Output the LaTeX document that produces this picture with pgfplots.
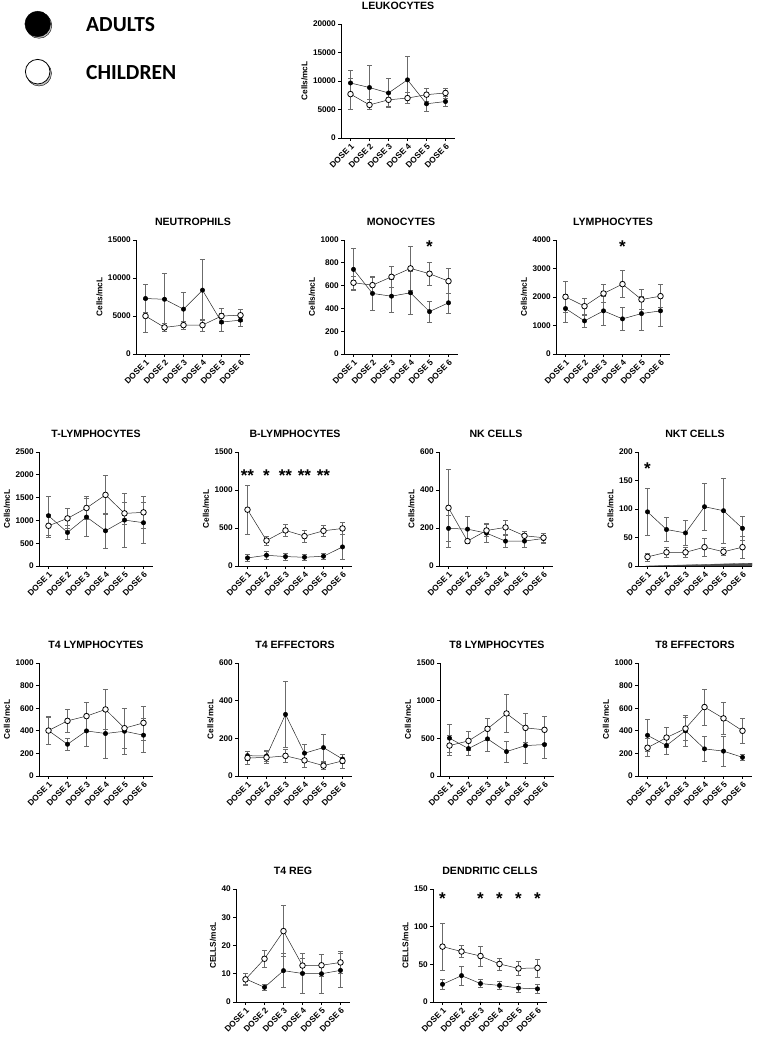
\documentclass[border=0pt]{standalone}
\usepackage{fontspec}
\setmainfont{Liberation Sans}
\newfontfamily\legfont{Carlito}
\usepackage{pgfplots}
\pgfplotsset{compat=1.18}
\definecolor{eb}{gray}{0.42}
\newcommand\fs[1]{\fontsize{#1}{#1}\selectfont}
\pgfplotsset{
  panel/.style={
    scale only axis, width=114pt, height=114pt,
    anchor=south west,
    xmin=0.5, xmax=6.5, ymin=0,
    axis x line*=bottom, axis y line*=left,
    axis line style={-, line width=0.9pt},
    tick align=outside, major tick length=3pt,
    tick style={line width=0.9pt, black},
    xtick={1,...,6},
    xticklabels={DOSE 1,DOSE 2,DOSE 3,DOSE 4,DOSE 5,DOSE 6},
    x tick label style={rotate=45, anchor=north east, font=\bfseries\fs{8.3}, inner sep=1pt},
    y tick label style={font=\bfseries\fs{8.2}, inner sep=2pt},
    scaled y ticks=false,
    /pgf/number format/assume math mode=true,
    /pgf/number format/1000 sep={},
    ylabel={Cells/mcL},
    ylabel style={font=\bfseries\fs{8.3}},
    title style={font=\bfseries\fs{10.6}, yshift=5pt},
    clip=false,
  },
  ad/.style={black!85, line width=0.5pt, mark=*, mark size=2.2pt, mark options={fill=black, draw=black, solid},
    error bars/.cd, y dir=both, y explicit, error bar style={eb, line width=0.6pt}, error mark options={eb, rotate=90, mark size=2.5pt, line width=0.6pt}},
  ch/.style={black!85, line width=0.5pt, mark=*, mark size=2.8pt, mark options={fill=white, draw=black, line width=0.8pt, solid},
    error bars/.cd, y dir=both, y explicit, error bar style={eb, line width=0.6pt}, error mark options={eb, rotate=90, mark size=2.5pt, line width=0.6pt}},
}
\newcommand\sig[2]{\node[font=\bfseries\fs{17}] at (axis cs:#1,#2) {*};}
\begin{document}
\begin{tikzpicture}
\useasboundingbox (0,0) rectangle (758pt,1038pt);

% legend
\begin{axis}[at={(0pt,938pt)}, anchor=south west, scale only axis, width=250pt, height=100pt,
  xmin=0, xmax=250, ymin=0, ymax=100, hide axis, clip=false]
\addplot[only marks, mark=*, mark size=12.8pt, draw=none, fill=black!25] coordinates {(39,74.5)};
\addplot[only marks, mark=*, mark size=12.8pt, draw=black, fill=black] coordinates {(37.7,76)};
\addplot[only marks, mark=*, mark size=12.5pt, draw=none, fill=black!25] coordinates {(39,26.5)};
\addplot[only marks, mark=*, mark size=12.3pt, draw=black, fill=white, line width=0.8pt] coordinates {(37.7,28.3)};
\node[anchor=base west, inner sep=0pt, font=\legfont\bfseries\fs{21.5}] at (axis cs:86,68) {ADULTS};
\node[anchor=base west, inner sep=0pt, font=\legfont\bfseries\fs{21.5}] at (axis cs:86,20) {CHILDREN};
\end{axis}

% LEUKOCYTES
\begin{axis}[panel, at={(341pt,900pt)}, ymax=20000, ytick={0,5000,10000,15000,20000}, title=LEUKOCYTES]
\addplot[ad] table[x=x,y=y,y error plus=ep,y error minus=em] {
x y ep em
1 9650 2150 2150
2 8850 3900 3900
3 7900 2500 2500
4 10200 4200 4200
5 6000 1300 1300
6 6400 1000 900
};
\addplot[ch] table[x=x,y=y,y error plus=ep,y error minus=em] {
x y ep em
1 7700 2700 2700
2 5800 900 800
3 6700 1100 1100
4 7000 1000 1000
5 7600 1200 1200
6 7900 900 900
};
\end{axis}

% NEUTROPHILS
\begin{axis}[panel, at={(136pt,684pt)}, ymax=15000, ytick={0,5000,10000,15000}, title=NEUTROPHILS]
\addplot[ad] table[x=x,y=y,y error plus=ep,y error minus=em] {
x y ep em
1 7300 1850 1850
2 7200 3400 3400
3 5900 2200 2200
4 8400 4000 4000
5 4200 1200 1200
6 4450 850 850
};
\addplot[ch] table[x=x,y=y,y error plus=ep,y error minus=em] {
x y ep em
1 5000 2200 2200
2 3500 600 550
3 3800 500 500
4 3800 750 800
5 5000 1000 1000
6 5100 800 800
};
\end{axis}

% MONOCYTES
\begin{axis}[panel, at={(344pt,684pt)}, ymax=1000, ytick={0,200,...,1000}, title=MONOCYTES]
\addplot[ad] table[x=x,y=y,y error plus=ep,y error minus=em] {
x y ep em
1 742 185 185
2 531 150 147
3 507 145 143
4 537 190 191
5 372 91 96
6 449 81 91
};
\addplot[ch] table[x=x,y=y,y error plus=ep,y error minus=em] {
x y ep em
1 625 60 60
2 604 73 73
3 677 88 88
4 751 190 190
5 704 99 99
6 639 109 109
};
\sig{5}{945}
\end{axis}

% LYMPHOCYTES
\begin{axis}[panel, at={(556pt,684pt)}, ymax=4000, ytick={0,1000,...,4000}, title=LYMPHOCYTES]
\addplot[ad] table[x=x,y=y,y error plus=ep,y error minus=em] {
x y ep em
1 1595 500 500
2 1161 210 210
3 1513 500 500
4 1232 400 400
5 1419 590 590
6 1513 540 540
};
\addplot[ch] table[x=x,y=y,y error plus=ep,y error minus=em] {
x y ep em
1 2006 540 540
2 1677 270 270
3 2123 320 320
4 2452 470 470
5 1912 360 360
6 2029 400 400
};
\sig{4}{3780}
\end{axis}

% T-LYMPHOCYTES
\begin{axis}[panel, at={(39pt,472pt)}, ymax=2500, ytick={0,500,...,2500}, title=T-LYMPHOCYTES]
\addplot[ad] table[x=x,y=y,y error plus=ep,y error minus=em] {
x y ep em
1 1103 420 420
2 735 147 147
3 1074 420 420
4 772 375 375
5 1007 595 595
6 949 442 442
};
\addplot[ch] table[x=x,y=y,y error plus=ep,y error minus=em] {
x y ep em
1 882 260 260
2 1044 221 221
3 1272 250 250
4 1559 434 434
5 1154 250 250
6 1176 346 346
};
\end{axis}

% B-LYMPHOCYTES
\begin{axis}[panel, at={(238pt,472pt)}, ymax=1500, ytick={0,500,...,1500}, title=B-LYMPHOCYTES]
\addplot[ad] table[x=x,y=y,y error plus=ep,y error minus=em] {
x y ep em
1 106 45 45
2 141 50 50
3 124 45 45
4 115 35 35
5 128 45 45
6 251 160 160
};
\addplot[ch] table[x=x,y=y,y error plus=ep,y error minus=em] {
x y ep em
1 741 325 325
2 335 60 60
3 468 80 80
4 393 75 75
5 463 70 70
6 494 75 75
};
\node[font=\bfseries\fs{17}] at (axis cs:1,1187) {**};
\node[font=\bfseries\fs{17}] at (axis cs:2,1187) {*};
\node[font=\bfseries\fs{17}] at (axis cs:3,1187) {**};
\node[font=\bfseries\fs{17}] at (axis cs:4,1187) {**};
\node[font=\bfseries\fs{17}] at (axis cs:5,1187) {**};
\end{axis}

% NK CELLS
\begin{axis}[panel, at={(439pt,472pt)}, ymax=600, ytick={0,200,...,600}, title=NK CELLS]
\addplot[ad] table[x=x,y=y,y error plus=ep,y error minus=em] {
x y ep em
1 198 67 67
2 194 68 68
3 173 50 50
4 131 30 30
5 131 30 30
6 145 25 25
};
\addplot[ch] table[x=x,y=y,y error plus=ep,y error minus=em] {
x y ep em
1 306 205 205
2 131 10 10
3 187 30 30
4 203 35 35
5 159 25 25
6 149 25 25
};
\end{axis}

% NKT CELLS
\begin{axis}[panel, at={(638pt,472pt)}, ymax=200, ytick={0,50,...,200}, title=NKT CELLS]
\addplot[draw=black!70, fill=black!70, line width=0.3pt] coordinates {(0.9,0) (6.5,5) (6.5,0)} -- cycle;
\addplot[ad] table[x=x,y=y,y error plus=ep,y error minus=em] {
x y ep em
1 95 41 41
2 64 21 21
3 58 22 22
4 104 41 41
5 97 57 57
6 66 21 21
};
\addplot[ch] table[x=x,y=y,y error plus=ep,y error minus=em] {
x y ep em
1 16 7 7
2 24 9 9
3 24 8 8
4 33 16 16
5 25 7 7
6 33 19 19
};
\sig{1}{170}
\end{axis}

% T4 LYMPHOCYTES
\begin{axis}[panel, height=113pt, at={(39pt,262pt)}, ymax=1000, ytick={0,200,...,1000}, title=T4 LYMPHOCYTES]
\addplot[ad] table[x=x,y=y,y error plus=ep,y error minus=em] {
x y ep em
1 402 125 125
2 281 50 50
3 399 140 140
4 376 220 220
5 396 200 200
6 361 150 150
};
\addplot[ch] table[x=x,y=y,y error plus=ep,y error minus=em] {
x y ep em
1 402 120 120
2 488 105 105
3 530 125 125
4 589 175 175
5 423 175 175
6 470 150 150
};
\end{axis}

% T4 EFFECTORS
\begin{axis}[panel, height=113pt, at={(238pt,262pt)}, ymax=600, ytick={0,200,...,600}, title=T4 EFFECTORS]
\addplot[ad] table[x=x,y=y,y error plus=ep,y error minus=em] {
x y ep em
1 108 25 25
2 106 30 30
3 327 175 175
4 121 45 45
5 151 72 72
6 90 25 25
};
\addplot[ch] table[x=x,y=y,y error plus=ep,y error minus=em] {
x y ep em
1 96 35 35
2 98 32 32
3 107 35 35
4 83 35 35
5 55 20 20
6 80 37 37
};
\end{axis}

% T8 LYMPHOCYTES
\begin{axis}[panel, height=113pt, at={(440pt,262pt)}, ymax=1500, ytick={0,500,...,1500}, title=T8 LYMPHOCYTES]
\addplot[ad] table[x=x,y=y,y error plus=ep,y error minus=em] {
x y ep em
1 502 190 190
2 364 85 85
3 493 169 169
4 324 138 138
5 404 235 235
6 417 177 177
};
\addplot[ch] table[x=x,y=y,y error plus=ep,y error minus=em] {
x y ep em
1 404 133 133
2 466 124 124
3 626 146 146
4 830 253 253
5 639 190 190
6 613 177 177
};
\end{axis}

% T8 EFFECTORS
\begin{axis}[panel, height=113pt, at={(638pt,262pt)}, ymax=1000, ytick={0,200,...,1000}, title=T8 EFFECTORS]
\addplot[ad] table[x=x,y=y,y error plus=ep,y error minus=em] {
x y ep em
1 360 140 140
2 270 80 80
3 400 140 140
4 240 110 110
5 220 130 130
6 165 25 25
};
\addplot[ch] table[x=x,y=y,y error plus=ep,y error minus=em] {
x y ep em
1 250 80 80
2 340 90 90
3 420 100 100
4 610 160 160
5 510 140 140
6 400 110 110
};
\end{axis}

% T4 REG
\begin{axis}[panel, height=113pt, at={(236pt,36pt)}, ymax=40, ytick={0,10,...,40}, title=T4 REG, ylabel={CELLS/mcL}]
\addplot[ad] table[x=x,y=y,y error plus=ep,y error minus=em] {
x y ep em
1 8.2 2 2
2 5.2 1 1
3 11.1 6 6
4 10.1 7 7
5 10 7 7
6 11.2 6 6
};
\addplot[ch] table[x=x,y=y,y error plus=ep,y error minus=em] {
x y ep em
1 8 2 2
2 15.3 3 3
3 25.1 9 9
4 12.9 2.5 2.5
5 13 4 4
6 14 4 4
};
\end{axis}

% DENDRITIC CELLS
\begin{axis}[panel, height=113pt, at={(433pt,36pt)}, ymax=150, ytick={0,50,...,150}, title=DENDRITIC CELLS, ylabel={CELLS/mcL}]
\addplot[ad] table[x=x,y=y,y error plus=ep,y error minus=em] {
x y ep em
1 23.5 6 6
2 35 13 13
3 24.5 5 5
4 22 5 5
5 18.5 6 6
6 17.5 6 6
};
\addplot[ch] table[x=x,y=y,y error plus=ep,y error minus=em] {
x y ep em
1 73.5 31 31
2 67 8 8
3 61 13 13
4 50.5 8 8
5 44.5 9 9
6 45.3 12 12
};
\sig{1}{137}
\sig{3}{137}
\sig{4}{137}
\sig{5}{137}
\sig{6}{137}
\end{axis}
\end{tikzpicture}
\end{document}
